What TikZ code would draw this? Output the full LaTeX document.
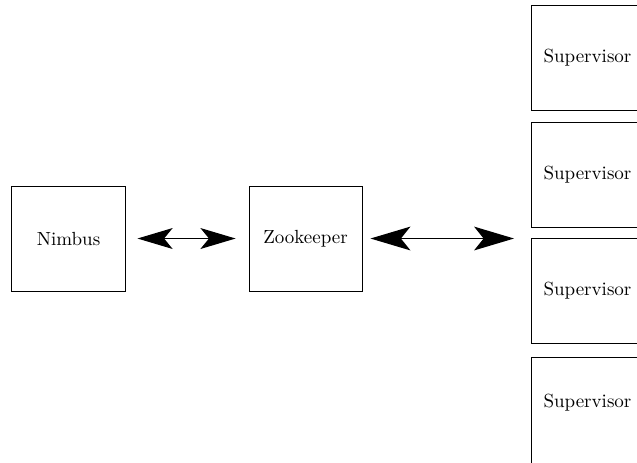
\documentclass[tikz,border=0pt]{standalone}
\usetikzlibrary{arrows.meta}
\begin{document}
\begin{tikzpicture}[x=0.5263pt,y=-0.5263pt,
  boxnode/.style={draw,line width=0.5pt,minimum width=59.5pt,minimum height=55.3pt,inner sep=0pt},
  linkA/.style={line width=0.7pt,{Stealth[length=18.5pt,width=11pt,inset=4.5pt]}-{Stealth[length=18.5pt,width=11pt,inset=4.5pt]}},
  linkB/.style={line width=0.8pt,{Stealth[length=21pt,width=12.5pt,inset=5pt]}-{Stealth[length=21pt,width=12.5pt,inset=5pt]}}]
\useasboundingbox (0,0) rectangle (637,462);
\node[boxnode] (nimbus) at (68.5,238.5) {Nimbus};
\node[boxnode] (zk) at (305.5,238.5) {Zookeeper};
\node[boxnode] (s1) at (587.5,58) {Supervisor};
\node[boxnode] (s2) at (587.5,174.5) {Supervisor};
\node[boxnode] (s3) at (587.5,290.5) {Supervisor};
\node[boxnode,minimum height=59.5pt,text depth=13.5pt] (s4) at (587.5,413.5) {Supervisor};
\coordinate (sv) at (514,238.5);
\draw[linkA,shorten <=6.3pt,shorten >=6.8pt] (nimbus.east) -- (zk.west);
\draw[linkB,shorten <=4.2pt] (zk.east) -- (sv);
\end{tikzpicture}
\end{document}
